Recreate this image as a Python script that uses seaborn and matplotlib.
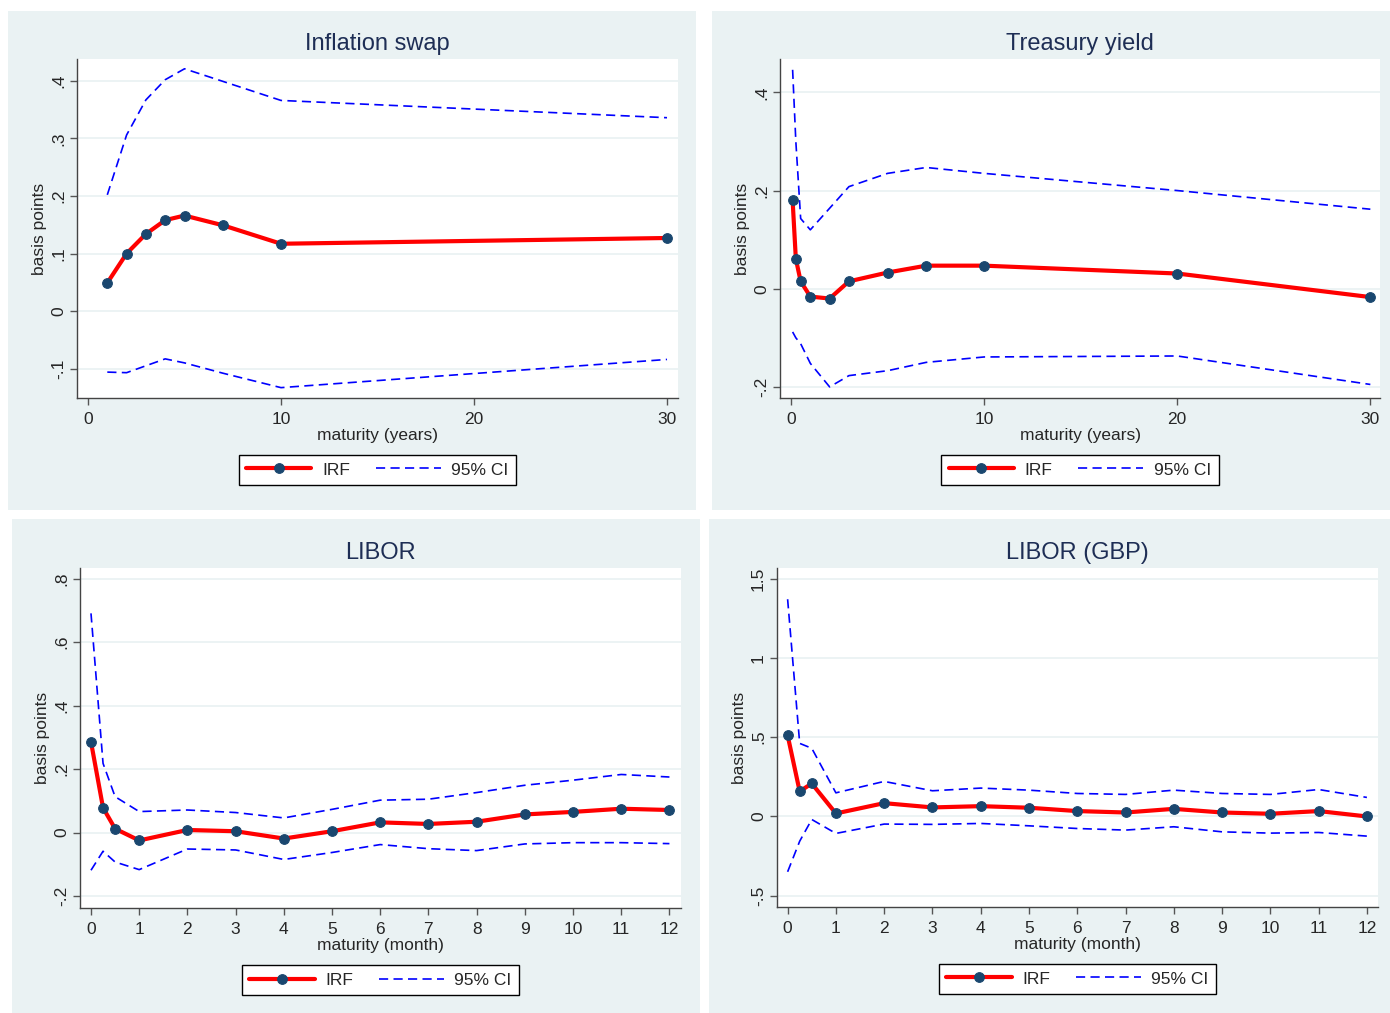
import matplotlib
matplotlib.use('Agg')
import matplotlib.pyplot as plt
from matplotlib.patches import Rectangle
from matplotlib.ticker import FuncFormatter
import seaborn as sns
import pandas as pd

# Data
infl_maturity = [1, 2, 3, 4, 5, 7, 10, 30]
infl_irf = [0.049, 0.100, 0.134, 0.158, 0.166, 0.149, 0.117, 0.127]
infl_upper = [0.202, 0.306, 0.367, 0.402, 0.421, 0.399, 0.366, 0.336]
infl_lower = [-0.106, -0.107, -0.095, -0.083, -0.090, -0.108, -0.133, -0.084]

treas_maturity = [1 / 12, 0.25, 0.5, 1, 2, 3, 5, 7, 10, 20, 30]
treas_irf = [0.180, 0.061, 0.015, -0.016, -0.020, 0.015, 0.033, 0.047, 0.047, 0.031, -0.017]
treas_upper = [0.446, 0.300, 0.143, 0.120, 0.164, 0.208, 0.235, 0.247, 0.235, 0.200, 0.162]
treas_lower = [-0.088, -0.100, -0.112, -0.152, -0.200, -0.177, -0.167, -0.150, -0.139, -0.137, -0.195]

month_maturity = [0, 0.25, 0.5, 1, 2, 3, 4, 5, 6, 7, 8, 9, 10, 11, 12]
libor_irf = [0.286, 0.078, 0.012, -0.025, 0.008, 0.004, -0.019, 0.004, 0.032, 0.027, 0.034, 0.057, 0.065, 0.075, 0.071]
libor_upper = [0.691, 0.218, 0.113, 0.066, 0.071, 0.063, 0.046, 0.073, 0.102, 0.105, 0.126, 0.149, 0.165, 0.183, 0.175]
libor_lower = [-0.119, -0.059, -0.093, -0.117, -0.052, -0.055, -0.085, -0.063, -0.038, -0.051, -0.057, -0.036, -0.032, -0.032, -0.035]

gbp_irf = [0.512, 0.158, 0.208, 0.019, 0.084, 0.057, 0.065, 0.055, 0.034, 0.025, 0.048, 0.025, 0.017, 0.034, 0.0]
gbp_upper = [1.37, 0.461, 0.43, 0.149, 0.221, 0.162, 0.179, 0.166, 0.145, 0.139, 0.166, 0.145, 0.139, 0.17, 0.12]
gbp_lower = [-0.349, -0.156, -0.019, -0.107, -0.048, -0.05, -0.044, -0.059, -0.076, -0.086, -0.065, -0.097, -0.105, -0.101, -0.124]

titles = ['Inflation swap', 'Treasury yield', 'LIBOR', 'LIBOR (GBP)']
xlabels = ['maturity (years)', 'maturity (years)', 'maturity (month)', 'maturity (month)']
year_ticks = [0, 10, 20, 30]
month_ticks = list(range(13))

sns.set_style('ticks')
plt.rcParams['font.family'] = ['Liberation Sans', 'DejaVu Sans']

W, H = 1390, 1013
BG = '#eaf2f3'
TITLE_COL = '#1e2e55'
NAVY = '#1a476f'


def stata_fmt(v, pos):
    s = f'{v:g}'
    if s.startswith('0.'):
        s = s[1:]
    elif s.startswith('-0.'):
        s = '-' + s[2:]
    return s


def px_rect(x0, y0, x1, y1):
    return [x0 / W, 1 - y1 / H, (x1 - x0) / W, (y1 - y0) / H]


fig = plt.figure(figsize=(W / 100, H / 100), dpi=100)

panels = [
    dict(bg=(8, 11, 696, 510), ax=(77, 59, 678, 398), x=infl_maturity, irf=infl_irf,
         up=infl_upper, lo=infl_lower, xlim=(-0.57, 30.57), ylim=(-0.151, 0.438),
         xt=year_ticks, yt=[-0.1, 0, 0.1, 0.2, 0.3, 0.4]),
    dict(bg=(712, 11, 1390, 510), ax=(780, 59, 1380, 398), x=treas_maturity, irf=treas_irf,
         up=treas_upper, lo=treas_lower, xlim=(-0.57, 30.5), ylim=(-0.2226, 0.468),
         xt=year_ticks, yt=[-0.2, 0, 0.2, 0.4]),
    dict(bg=(12, 519, 700, 1013), ax=(80, 568, 681, 908), x=month_maturity, irf=libor_irf,
         up=libor_upper, lo=libor_lower, xlim=(-0.228, 12.24), ylim=(-0.238, 0.834),
         xt=month_ticks, yt=[-0.2, 0, 0.2, 0.4, 0.6, 0.8]),
    dict(bg=(709, 519, 1390, 1013), ax=(777, 568, 1378, 907), x=month_maturity, irf=gbp_irf,
         up=gbp_upper, lo=gbp_lower, xlim=(-0.22, 12.23), ylim=(-0.571, 1.567),
         xt=month_ticks, yt=[-0.5, 0, 0.5, 1, 1.5]),
]

for i, p in enumerate(panels):
    bx0, by0, bx1, by1 = p['bg']
    fig.patches.append(Rectangle((bx0 / W, 1 - by1 / H), (bx1 - bx0) / W, (by1 - by0) / H,
                                 transform=fig.transFigure, facecolor=BG, edgecolor='none',
                                 zorder=-10))

    ax = fig.add_axes(px_rect(*p['ax']))
    ax.set_zorder(1)
    ax.set_facecolor('white')
    df = pd.DataFrame({'maturity': p['x'], 'irf': p['irf'], 'upper': p['up'], 'lower': p['lo']})

    sns.lineplot(data=df, x='maturity', y='irf', ax=ax, color='#ff0000', linewidth=3.0,
                 marker='o', markersize=7, markerfacecolor=NAVY, markeredgecolor=NAVY,
                 label='IRF', zorder=3)
    sns.lineplot(data=df, x='maturity', y='upper', ax=ax, color='#0000ff', linewidth=1.2,
                 linestyle=(0, (5.5, 3.2)), label='95% CI', zorder=2)
    sns.lineplot(data=df, x='maturity', y='lower', ax=ax, color='#0000ff', linewidth=1.2,
                 linestyle=(0, (5.5, 3.2)), zorder=2)

    ax.set_xlim(*p['xlim'])
    ax.set_ylim(*p['ylim'])
    ax.set_xticks(p['xt'])
    ax.set_yticks(p['yt'])
    ax.yaxis.set_major_formatter(FuncFormatter(stata_fmt))
    ax.grid(axis='y', color=BG, linewidth=1.3)
    ax.set_axisbelow(True)
    for side in ['top', 'right']:
        ax.spines[side].set_visible(False)
    for side in ['left', 'bottom']:
        ax.spines[side].set_color('#444444')
        ax.spines[side].set_linewidth(1.0)
    ax.tick_params(axis='both', length=5, width=1, color='#555555', labelsize=12.5, pad=3)
    ax.tick_params(axis='x', pad=5)
    ax.tick_params(axis='y', labelrotation=90)
    for lab in ax.get_yticklabels():
        lab.set_va('center')

    ax.set_ylabel('basis points', fontsize=12.5, labelpad=3)
    ax.set_xlabel(xlabels[i], fontsize=12.5, labelpad=1)

    ax0, ay0, ax1, ay1 = p['ax']
    cx = (ax0 + ax1) / 2
    fig.text(cx / W, 1 - (ay0 - 15) / H, titles[i], ha='center', va='center',
             fontsize=17, color=TITLE_COL)

    handles, labels = ax.get_legend_handles_labels()
    leg = ax.legend(handles, labels, ncol=2, loc='center',
                    bbox_to_anchor=(cx / W, 1 - (ay1 + 72) / H),
                    bbox_transform=fig.transFigure, fontsize=12.5, frameon=True,
                    fancybox=False, edgecolor='black', framealpha=1,
                    handlelength=3.75, columnspacing=1.5, handletextpad=0.6,
                    borderpad=0.45)
    leg.get_frame().set_linewidth(1.0)

fig.savefig('out.png', dpi=100, facecolor='white')
